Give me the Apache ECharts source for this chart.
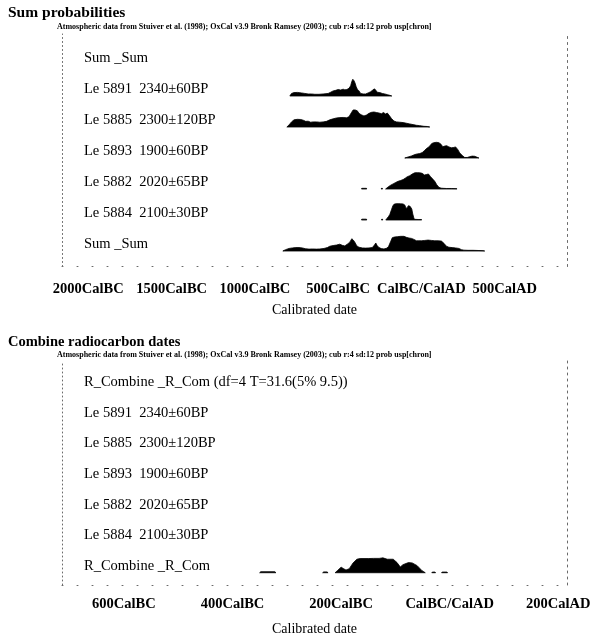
<!DOCTYPE html>
<html>
<head>
<meta charset="utf-8">
<script src="https://cdn.jsdelivr.net/npm/echarts@6/dist/echarts.min.js"></script>
<style>
  html, body { margin: 0; padding: 0; background: #fff; }
  #chart { width: 598px; height: 636px; }
</style>
</head>
<body>
<div id="chart"></div>
<script>
// ---- Text ----
const sumTitle = 'Sum probabilities';
const combineTitle = 'Combine radiocarbon dates';
const sourceNote = 'Atmospheric data from Stuiver et al. (1998); OxCal v3.9 Bronk Ramsey (2003); cub r:4 sd:12 prob usp[chron]';
const axisName = 'Calibrated date';

// Row names, listed top to bottom
const sumRowNames = [
  'Sum _Sum',
  'Le 5891  2340±60BP',
  'Le 5885  2300±120BP',
  'Le 5893  1900±60BP',
  'Le 5882  2020±65BP',
  'Le 5884  2100±30BP',
  'Sum _Sum'
];
const combineRowNames = [
  'R_Combine _R_Com (df=4 T=31.6(5% 9.5))',
  'Le 5891  2340±60BP',
  'Le 5885  2300±120BP',
  'Le 5893  1900±60BP',
  'Le 5882  2020±65BP',
  'Le 5884  2100±30BP',
  'R_Combine _R_Com'
];

// Calendar tick labels (negative = BC, positive = AD)
const sumTicks = [-2000, -1500, -1000, -500, 0, 500];
const combineTicks = [-600, -400, -200, 0, 200];

// ---- Probability distributions: [calendar year, relative probability]; null breaks a run ----
const le5891 = [
  [-790,0],[-780,0.15],[-765,0.2],[-745,0.21],[-720,0.18],[-700,0.15],[-680,0.12],[-660,0.12],
  [-640,0.1],[-615,0.1],[-590,0.12],[-560,0.15],[-545,0.22],[-530,0.3],[-515,0.33],[-500,0.38],
  [-485,0.35],[-470,0.4],[-460,0.36],[-448,0.38],[-435,0.45],[-425,0.6],[-418,0.85],[-412,0.98],
  [-405,0.9],[-398,0.75],[-392,0.55],[-385,0.4],[-375,0.3],[-365,0.15],[-350,0.12],[-335,0.12],
  [-320,0.18],[-305,0.25],[-292,0.35],[-282,0.42],[-275,0.35],[-265,0.22],[-250,0.2],[-235,0.15],
  [-220,0.12],[-205,0.08],[-190,0.04],[-178,0]
];
const le5885 = [
  [-808,0],[-795,0.12],[-780,0.3],[-765,0.42],[-745,0.45],[-725,0.44],[-710,0.4],[-695,0.33],
  [-680,0.34],[-665,0.28],[-650,0.3],[-630,0.3],[-610,0.28],[-590,0.3],[-570,0.33],[-550,0.42],
  [-530,0.48],[-510,0.53],[-490,0.55],[-470,0.56],[-450,0.54],[-435,0.6],[-420,0.85],[-410,1.0],
  [-398,1.0],[-385,0.95],[-375,0.8],[-362,0.72],[-345,0.65],[-330,0.7],[-315,0.8],[-300,0.86],
  [-285,0.88],[-270,0.85],[-255,0.82],[-240,0.78],[-228,0.85],[-215,0.76],[-205,0.82],[-195,0.7],
  [-180,0.5],[-165,0.35],[-150,0.3],[-130,0.28],[-110,0.26],[-90,0.22],[-70,0.18],[-50,0.14],
  [-30,0.1],[-10,0.08],[15,0.04],[35,0.03],[50,0]
];
const le5893 = [
  [-100,0],[-80,0.06],[-60,0.12],[-40,0.2],[-25,0.24],[-10,0.26],[5,0.32],[20,0.45],[30,0.55],
  [40,0.62],[50,0.7],[62,0.85],[75,0.9],[90,0.92],[105,0.9],[118,0.8],[128,0.66],[140,0.7],
  [152,0.72],[165,0.65],[180,0.6],[195,0.62],[205,0.65],[218,0.5],[230,0.3],[245,0.15],
  [260,0.03],[275,0.03],[290,0.08],[305,0.11],[320,0.1],[335,0.04],[345,0]
];
const le5882 = [
  [-360,0],[-358,0.04],[-330,0.04],[-328,0], null,
  [-242,0],[-240,0.04],[-235,0.04],[-233,0], null,
  [-215,0],[-200,0.12],[-185,0.22],[-170,0.3],[-155,0.38],[-140,0.45],[-125,0.5],[-110,0.55],
  [-95,0.65],[-85,0.72],[-70,0.78],[-55,0.88],[-40,0.95],[-25,0.96],[-10,0.95],[5,0.92],
  [18,0.82],[30,0.85],[42,0.88],[55,0.72],[68,0.58],[80,0.45],[92,0.25],[105,0.1],[118,0.05],
  [130,0.04],[150,0.03],[180,0.03],[212,0.02],[214,0]
];
const le5884 = [
  [-360,0],[-358,0.05],[-330,0.05],[-328,0], null,
  [-240,0],[-238,0.05],[-234,0.05],[-232,0], null,
  [-214,0],[-208,0.08],[-198,0.2],[-190,0.32],[-180,0.6],[-172,0.82],[-165,0.92],[-155,0.95],
  [-140,0.96],[-125,0.95],[-110,0.94],[-100,0.88],[-92,0.68],[-86,0.72],[-78,0.84],[-68,0.8],
  [-58,0.65],[-52,0.35],[-45,0.1],[-40,0.04],[-20,0.03],[0,0.03],[2,0]
];
const sumSum = [
  [-832,0],[-815,0.08],[-795,0.15],[-775,0.18],[-755,0.2],[-735,0.2],[-715,0.18],[-695,0.13],
  [-675,0.11],[-655,0.12],[-630,0.11],[-610,0.12],[-585,0.15],[-565,0.2],[-550,0.28],[-530,0.32],
  [-510,0.35],[-490,0.4],[-475,0.33],[-460,0.3],[-445,0.4],[-430,0.52],[-418,0.72],[-410,0.65],
  [-400,0.52],[-388,0.3],[-375,0.22],[-355,0.18],[-335,0.17],[-315,0.18],[-295,0.2],[-282,0.35],
  [-274,0.47],[-266,0.32],[-255,0.2],[-240,0.14],[-225,0.12],[-210,0.16],[-198,0.25],[-185,0.55],
  [-175,0.78],[-162,0.82],[-145,0.84],[-125,0.86],[-105,0.86],[-90,0.8],[-75,0.76],[-60,0.74],
  [-45,0.68],[-30,0.6],[-15,0.6],[0,0.6],[20,0.62],[40,0.64],[60,0.62],[80,0.6],[100,0.6],
  [120,0.58],[135,0.45],[150,0.28],[165,0.22],[185,0.2],[205,0.18],[225,0.15],[240,0.08],
  [255,0.05],[280,0.04],[310,0.04],[340,0.03],[370,0.02],[380,0]
];
const rCombine = [
  [-350,0],[-348,0.06],[-322,0.06],[-320,0], null,
  [-234,0],[-232,0.05],[-226,0.05],[-224,0], null,
  [-211,0],[-207,0.12],[-200,0.33],[-196,0.25],[-191,0.16],[-185,0.24],[-178,0.58],[-171,0.8],
  [-165,0.84],[-150,0.84],[-140,0.85],[-130,0.85],[-123,0.88],[-115,0.8],[-104,0.8],[-97,0.6],
  [-91,0.34],[-86,0.48],[-76,0.6],[-69,0.58],[-60,0.42],[-51,0.12],[-45,0], null,
  [-33,0],[-32,0.04],[-27,0.04],[-26,0], null,
  [-15,0],[-14,0.04],[-5,0.04],[-4,0]
];

// Distribution shown on each row (top to bottom); null = header row with no curve
const sumRowDists = [null, le5891, le5885, le5893, le5882, le5884, sumSum];
const combineRowDists = [null, null, null, null, null, null, rCombine];

// ---- Drawing helpers ----
const FONT = '"Liberation Serif", "Times New Roman", serif';
const PEAK = 0.55;          // height of a probability of 1, in row units
const LABEL_LIFT = 0.21;    // row name sits this far above its baseline, in row units
const FRAME = '#6a6a6a';

function calLabel(v) {
  if (v === 0) return 'CalBC/CalAD';
  return v < 0 ? (-v) + 'CalBC' : v + 'CalAD';
}

// Turn the row table into custom-series items: [first year, row value, row index]
function rowItems(dists) {
  const n = dists.length;
  const items = [];
  dists.forEach((d, i) => {
    if (d) items.push([d[0][0], n - 1 - i, i]);
  });
  return items;
}

function distRenderer(dists) {
  return function (params, api) {
    const dist = dists[api.value(2)];
    const row = api.value(1);
    const children = [];
    let run = [];
    const flush = () => {
      if (run.length > 1) {
        const pts = run.map(([yr, p]) => api.coord([yr, row + p * PEAK]));
        pts.push(api.coord([run[run.length - 1][0], row]));
        pts.push(api.coord([run[0][0], row]));
        children.push({
          type: 'polygon',
          shape: { points: pts },
          style: { fill: '#000', stroke: '#000', lineWidth: 0.8 }
        });
      }
      run = [];
    };
    dist.forEach(pt => { if (pt === null) flush(); else run.push(pt); });
    flush();
    return { type: 'group', children };
  };
}

function rowAxis(gridIndex, names, min, max) {
  const n = names.length;
  return {
    type: 'value', gridIndex, min, max, position: 'left',
    splitLine: { show: false },
    axisTick: { show: false },
    axisLine: { show: true, onZero: false, lineStyle: { color: FRAME, width: 1, type: [1, 3] } },
    axisLabel: {
      inside: true, margin: 22,
      customValues: names.map((_, i) => n - 1 - i + LABEL_LIFT),
      formatter: v => names[n - 1 - Math.round(v - LABEL_LIFT)],
      verticalAlign: 'middle',
      fontFamily: FONT, fontSize: 14.5, color: '#000'
    }
  };
}

function frameAxis(gridIndex, min, max) {
  return {
    type: 'value', gridIndex, min, max, position: 'right',
    splitLine: { show: false },
    axisTick: { show: false },
    axisLabel: { show: false },
    axisLine: { show: true, onZero: false, lineStyle: { color: FRAME, width: 1, type: [2, 4] } }
  };
}

function calAxis(gridIndex, ticks, min, max, labelMargin, nameGap) {
  return {
    type: 'value', gridIndex, min, max,
    name: axisName, nameLocation: 'middle', nameGap,
    nameTextStyle: { fontFamily: FONT, fontSize: 14, color: '#000' },
    splitLine: { show: false },
    axisLine: { show: true, onZero: false, lineStyle: { color: FRAME, width: 1, type: [1, 14] } },
    axisTick: { show: false },
    axisLabel: {
      customValues: ticks, margin: labelMargin,
      formatter: calLabel,
      fontFamily: FONT, fontSize: 14.5, fontWeight: 'bold', color: '#000'
    }
  };
}

const titleStyle = { fontFamily: FONT, fontSize: 15.5, fontWeight: 'bold', color: '#000' };
const noteStyle = { fontFamily: FONT, fontSize: 8, fontWeight: 'bold', color: '#000' };

const chart = echarts.init(document.getElementById('chart'), null, { renderer: 'canvas' });
chart.setOption({
  animation: false,
  backgroundColor: '#fff',
  title: [
    { text: sumTitle, left: 8, top: 5, padding: 0, textStyle: titleStyle },
    { text: sourceNote, left: 57, top: 23, padding: 0, textStyle: noteStyle },
    { text: combineTitle, left: 8, top: 335, padding: 0, textStyle: Object.assign({}, titleStyle, { fontSize: 14.5 }) },
    { text: sourceNote, left: 57, top: 351, padding: 0, textStyle: noteStyle }
  ],
  grid: [
    { left: 62, right: 31, top: 34, height: 232.5, containLabel: false, outerBoundsMode: 'none' },
    { left: 62, right: 31, top: 361, height: 224, containLabel: false, outerBoundsMode: 'none' }
  ],
  xAxis: [
    calAxis(0, sumTicks, -2158, 874, 15, 37),
    calAxis(1, combineTicks, -714, 216, 12, 37)
  ],
  yAxis: [
    rowAxis(0, sumRowNames, -0.5, 7.0),
    frameAxis(0, -0.5, 7.0),
    rowAxis(1, combineRowNames, -0.4, 6.9),
    frameAxis(1, -0.4, 6.9)
  ],
  series: [
    {
      type: 'custom', xAxisIndex: 0, yAxisIndex: 0,
      data: rowItems(sumRowDists),
      encode: { x: 0, y: 1 },
      renderItem: distRenderer(sumRowDists),
      silent: true
    },
    {
      type: 'custom', xAxisIndex: 1, yAxisIndex: 2,
      data: rowItems(combineRowDists),
      encode: { x: 0, y: 1 },
      renderItem: distRenderer(combineRowDists),
      silent: true
    }
  ]
});
</script>
</body>
</html>
